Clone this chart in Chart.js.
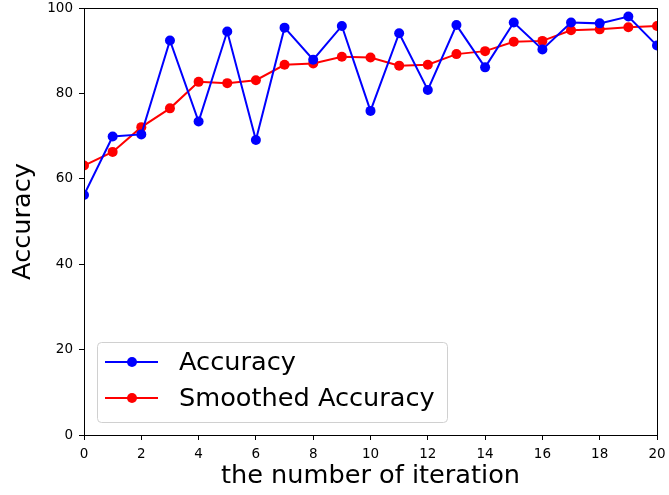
<!DOCTYPE html>
<html>
<head>
<meta charset="utf-8">
<script src="https://cdn.jsdelivr.net/npm/chart.js@4/dist/chart.umd.min.js"></script>
<style>
  html, body { margin: 0; padding: 0; background: #fff; }
  #wrap { width: 669px; height: 495px; }
</style>
</head>
<body>
<div id="wrap"><canvas id="acc-chart" width="669" height="495"></canvas></div>
<script>
const iterations = [0, 1, 2, 3, 4, 5, 6, 7, 8, 9, 10, 11, 12, 13, 14, 15, 16, 17, 18, 19, 20];
const accuracy = [56.2, 69.9, 70.4, 92.4, 73.4, 94.5, 69.1, 95.4, 87.9, 95.8, 75.9,
                  94.1, 80.8, 96.0, 86.1, 96.6, 90.3, 96.6, 96.4, 98.0, 91.2];
const smoothed = [63.1, 66.3, 72.1, 76.5, 82.7, 82.4, 83.1, 86.7, 87.0, 88.6, 88.4,
                  86.5, 86.7, 89.2, 89.9, 92.1, 92.3, 94.8, 95.0, 95.5, 95.8];
const xTicks = [0, 2, 4, 6, 8, 10, 12, 14, 16, 18, 20];
const yTicks = [0, 20, 40, 60, 80, 100];

const FONT = "'DejaVu Sans', sans-serif";
const BIG = 25.6;

function toPoints(values) {
  return iterations.map((it, i) => ({ x: it, y: values[i] }));
}

// draws the top/right frame lines like matplotlib
const framePlugin = {
  id: "frame",
  afterDatasetsDraw(chart) {
    const { ctx, chartArea: a } = chart;
    ctx.save();
    ctx.strokeStyle = "#000";
    ctx.lineWidth = 1;
    ctx.strokeRect(a.left + 0.5, a.top + 0.5, a.right - a.left, a.bottom - a.top);
    ctx.restore();
  }
};

// legend drawn inside the axes, lower left
const innerLegend = {
  id: "innerLegend",
  afterDraw(chart) {
    const { ctx } = chart;
    const x = 97, y = 342, w = 350, h = 80;
    ctx.save();
    ctx.fillStyle = "rgba(255,255,255,0.8)";
    ctx.strokeStyle = "#d0d0d0";
    ctx.lineWidth = 1;
    ctx.beginPath();
    ctx.roundRect(x + 0.5, y + 0.5, w, h, 4);
    ctx.fill();
    ctx.stroke();
    ctx.font = BIG + "px " + FONT;
    ctx.textBaseline = "middle";
    chart.data.datasets.forEach((ds, i) => {
      const cy = y + 20 + i * 36;
      ctx.strokeStyle = ds.borderColor;
      ctx.lineWidth = 2;
      ctx.beginPath();
      ctx.moveTo(x + 8, cy);
      ctx.lineTo(x + 61, cy);
      ctx.stroke();
      ctx.fillStyle = ds.pointBackgroundColor;
      ctx.beginPath();
      ctx.arc(x + 35, cy, 5, 0, Math.PI * 2);
      ctx.fill();
      ctx.fillStyle = "#000";
      ctx.fillText(ds.label, x + 82, cy + 1);
    });
    ctx.restore();
  }
};

new Chart(document.getElementById("acc-chart").getContext("2d"), {
  type: "line",
  data: {
    datasets: [
      {
        label: "Accuracy",
        data: toPoints(accuracy),
        borderColor: "#0000ff",
        backgroundColor: "#0000ff",
        pointBackgroundColor: "#0000ff",
        pointBorderColor: "#0000ff",
        borderWidth: 2,
        pointRadius: 5,
        pointBorderWidth: 0,
        tension: 0,
        fill: false,
        clip: 0
      },
      {
        label: "Smoothed Accuracy",
        data: toPoints(smoothed),
        borderColor: "#ff0000",
        backgroundColor: "#ff0000",
        pointBackgroundColor: "#ff0000",
        pointBorderColor: "#ff0000",
        borderWidth: 2,
        pointRadius: 5,
        pointBorderWidth: 0,
        tension: 0,
        fill: false,
        clip: 0
      }
    ]
  },
  options: {
    responsive: false,
    animation: false,
    layout: { padding: { left: 0, right: 12, top: 8, bottom: 0 } },
    plugins: {
      legend: { display: false },
      tooltip: { enabled: false }
    },
    scales: {
      x: {
        type: "linear",
        min: 0,
        max: 20,
        afterBuildTicks: (s) => { s.ticks = xTicks.map(v => ({ value: v })); },
        afterFit: (s) => { s.height = 60; s.paddingLeft = 0; s.paddingRight = 0; },
        grid: { drawOnChartArea: false, drawTicks: true, tickLength: 5, color: "#000" },
        border: { display: true, color: "#000" },
        ticks: { color: "#000", font: { family: FONT, size: 13.5 }, padding: 6, maxRotation: 0 },
        title: { display: true, text: "the number of iteration", color: "#000",
                 font: { family: FONT, size: BIG }, padding: { top: 0, bottom: 3 } }
      },
      y: {
        min: 0,
        max: 100,
        afterBuildTicks: (s) => { s.ticks = yTicks.map(v => ({ value: v })); },
        afterFit: (s) => { s.width = 84; s.paddingTop = 0; s.paddingBottom = 0; },
        grid: { drawOnChartArea: false, drawTicks: true, tickLength: 5, color: "#000" },
        border: { display: true, color: "#000" },
        ticks: { color: "#000", font: { family: FONT, size: 13.5 }, padding: 6 },
        title: { display: true, text: "Accuracy", color: "#000",
                 font: { family: FONT, size: BIG }, padding: { top: 8, bottom: 0 } }
      }
    }
  },
  plugins: [framePlugin, innerLegend]
});
</script>
</body>
</html>
